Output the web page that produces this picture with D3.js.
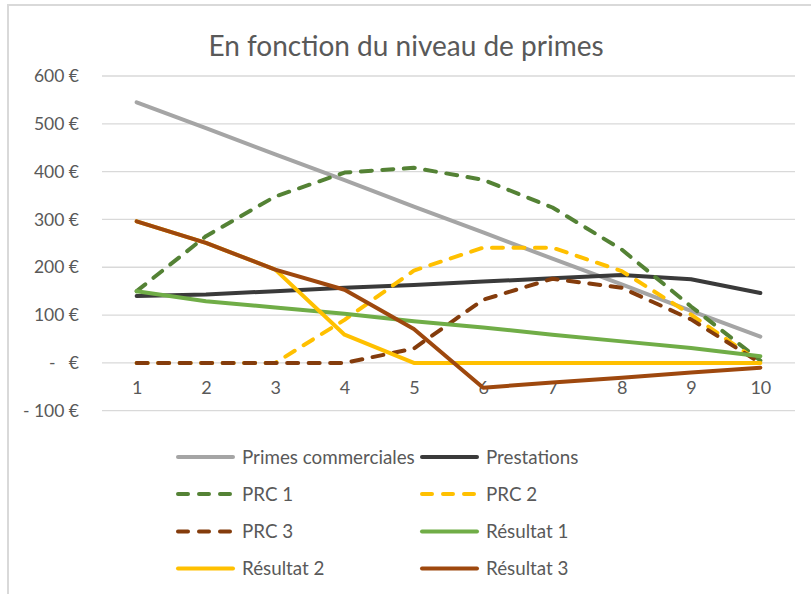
<!DOCTYPE html>
<html>
<head>
<meta charset="utf-8">
<script src="https://cdn.jsdelivr.net/npm/d3@7"></script>
<style>
  body { margin: 0; background: #fff; }
  text { font-family: Lato, "Noto Sans", sans-serif; fill: #595959; }
</style>
</head>
<body>
<svg width="811" height="594"></svg>
<script>
// categories and tick values
const categories = [1, 2, 3, 4, 5, 6, 7, 8, 9, 10];
const yTicks = [-100, 0, 100, 200, 300, 400, 500, 600];

// series values
const primesCommerciales = [545, 491, 436, 382, 327, 273, 218, 164, 109, 55];
const prestations = [140, 143, 150, 157, 163, 170, 177, 184, 175, 146];
const prc1 = [150, 265, 348, 398, 408, 383, 325, 237, 118, 5];
const prc2 = [0, 0, 0, 90, 193, 241, 241, 192, 101, 0];
const prc3 = [0, 0, 0, 0, 30, 132, 176, 157, 91, 0];
const resultat1 = [150, 129, 116, 103, 87, 74, 59, 45, 31, 14];
const resultat2 = [296, 251, 195, 59, 0, 0, 0, 0, 0, 0];
const resultat3 = [296, 251, 195, 153, 71, -52, -41, -31, -20, -10];

const series = [
    {name: "Primes commerciales", values: primesCommerciales, color: "#a5a5a5", dash: null},
    {name: "Prestations", values: prestations, color: "#3a3a3a", dash: null},
    {name: "PRC 1", values: prc1, color: "#548235", dash: "11,10.5"},
    {name: "PRC 2", values: prc2, color: "#ffc000", dash: "11,10.5"},
    {name: "PRC 3", values: prc3, color: "#843c0c", dash: "11,10.5"},
    {name: "Résultat 1", values: resultat1, color: "#70ad47", dash: null},
    {name: "Résultat 2", values: resultat2, color: "#ffc000", dash: null},
    {name: "Résultat 3", values: resultat3, color: "#9e480e", dash: null}
];

let svg = d3.select("svg");

// chart frame (only top and left visible)
svg.append("line").attr("x1", 7).attr("x2", 811).attr("y1", 5).attr("y2", 5)
    .attr("stroke", "#d9d9d9").attr("stroke-width", 2);
svg.append("line").attr("x1", 8).attr("x2", 8).attr("y1", 5).attr("y2", 594)
    .attr("stroke", "#d9d9d9").attr("stroke-width", 2);

svg.append("text")
    .attr("x", 406).attr("y", 56)
    .attr("text-anchor", "middle")
    .style("font-size", "28px")
    .text("En fonction du niveau de primes");

let x = d3.scalePoint()
    .domain(categories)
    .range([102, 795])
    .padding(0.5);

let y = d3.scaleLinear()
    .domain([-100, 600])
    .range([410.7, 76]);

// gridlines
svg.append("g")
    .selectAll("line")
    .data(yTicks)
    .enter().append("line")
    .attr("x1", 102).attr("x2", 795)
    .attr("y1", d => y(d)).attr("y2", d => y(d))
    .attr("stroke", "#d9d9d9").attr("stroke-width", 1.3);

function euro(d) {
    if (d === 0) return "-   €";
    if (d < 0) return "- " + Math.abs(d) + " €";
    return d + " €";
}

let yAxis = d3.axisLeft(y).tickValues(yTicks).tickSize(0).tickPadding(0).tickFormat(euro);
svg.append("g")
    .attr("transform", "translate(79,0)")
    .call(yAxis)
    .call(g => g.select(".domain").remove())
    .selectAll("text")
    .style("font-size", "17.5px")
    .style("font-family", "Lato, 'Noto Sans', sans-serif")
    .attr("fill", "#595959")
    .style("white-space", "pre");

let xAxis = d3.axisBottom(x).tickSize(0).tickPadding(0);
svg.append("g")
    .attr("transform", "translate(0,381)")
    .call(xAxis)
    .call(g => g.select(".domain").remove())
    .selectAll("text")
    .style("font-size", "18px")
    .style("font-family", "Lato, 'Noto Sans', sans-serif")
    .attr("fill", "#595959");

let line = d3.line()
    .x((d, i) => x(categories[i]))
    .y(d => y(d));

svg.append("g")
    .selectAll("path")
    .data(series)
    .enter().append("path")
    .attr("d", d => line(d.values))
    .attr("fill", "none")
    .attr("stroke", d => d.color)
    .attr("stroke-width", 4)
    .attr("stroke-linejoin", "round")
    .attr("stroke-linecap", "round")
    .attr("stroke-dasharray", d => d.dash);

// legend
let legendCols = [176, 420];
let legendRows = [457, 494, 531.5, 568.5];
let legend = svg.append("g")
    .selectAll("g")
    .data(series)
    .enter().append("g")
    .attr("transform", (d, i) => "translate(" + legendCols[i % 2] + "," + legendRows[Math.floor(i / 2)] + ")");

legend.append("line")
    .attr("x1", 2).attr("x2", 57)
    .attr("stroke", d => d.color)
    .attr("stroke-width", 4)
    .attr("stroke-linecap", "round")
    .attr("stroke-dasharray", d => d.dash ? "10,11" : null);

legend.append("text")
    .attr("x", 66)
    .attr("dy", "0.36em")
    .style("font-size", "18.8px")
    .text(d => d.name);
</script>
</body>
</html>
